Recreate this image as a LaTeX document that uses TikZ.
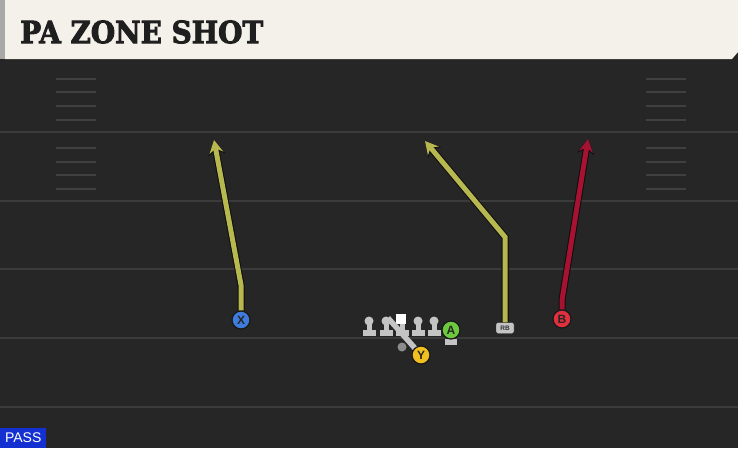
\documentclass[tikz,border=0pt]{standalone}
\usepackage{fontspec}
\usetikzlibrary{arrows.meta}
\newfontfamily\titlefont[BoldFont={DejaVu Serif Bold}]{DejaVu Serif}
\newfontfamily\labelfont{Liberation Sans}
\definecolor{field}{HTML}{262626}
\definecolor{yardline}{HTML}{3B3B3B}
\definecolor{hashmark}{HTML}{404040}
\definecolor{header}{HTML}{F4F1EA}
\definecolor{strip}{HTML}{A8A9A6}
\definecolor{olive}{HTML}{B8B850}
\definecolor{crimson}{HTML}{A81232}
\definecolor{xblue}{HTML}{3F7BDA}
\definecolor{agreen}{HTML}{6CC83C}
\definecolor{yyellow}{HTML}{F0C020}
\definecolor{bred}{HTML}{E0303E}
\definecolor{lineman}{HTML}{C4C4C4}
\definecolor{passblue}{HTML}{1430D0}
\tikzset{
  player/.style={circle, draw=black!90, line width=1.2pt, minimum size=18pt, inner sep=0pt, text=black!85, font=\labelfont\bfseries\fontsize{12}{12}\selectfont},
  outline/.style={draw=black!95, line width=7pt, -{Stealth[length=15pt,width=17pt,inset=5pt]}},
  route/.style={line width=5pt, -{Stealth[length=13pt,width=14pt,inset=4.5pt]}},
}
\begin{document}
\begin{tikzpicture}[x=1pt,y=-1pt]
\useasboundingbox (0,0) rectangle (738,448);
% field
\fill[field] (0,0) rectangle (738,448);
\foreach \y in {132,201,269,338,407}
{
\draw[yardline, line width=2.4pt] (0,\y) -- (738,\y);
}
\foreach \y in {79,92,106,120,148,162,175,189}
{
\draw[hashmark, line width=2pt] (56,\y) -- (96,\y);
\draw[hashmark, line width=2pt] (646,\y) -- (686,\y);
}
% header
\fill[black!85] (0,58) rectangle (738,63);
\fill[header] (5,0) -- (738,0) -- (738,52) -- (732,59) -- (5,59) -- cycle;
\fill[strip] (0,0) rectangle (5,59);
\node[anchor=west, inner sep=0pt, text=black!88] (title) at (20,32)
  {\special{pdf:literal 2 Tr 0.9 w}\scalebox{0.93}[1.02]{\titlefont\bfseries\fontsize{30}{30}\selectfont PA ZONE SHOT}\special{pdf:literal 0 Tr}};
% line
\foreach \x in {369,386,402,418,434}
{
\fill[lineman] (\x-2.5,321) rectangle (\x+2.5,331);
\fill[lineman] (\x-6.5,330) rectangle (\x+6.5,336);
}
\foreach \x in {369,386,418,434}
{
\fill[lineman] (\x,321) circle (4.5);
}
\node[fill=white, minimum size=10pt, inner sep=0pt] (C) at (401,319) {};
\fill[lineman] (445,339) rectangle (457,345);
\node[circle, fill=black!45, minimum size=9pt, inner sep=0pt] (QB) at (402,347) {};
% players
\node[player, fill=xblue] (X) at (241,320) {X};
\node[player, fill=agreen] (A) at (451,330) {A};
\node[player, fill=bred] (B) at (562,319) {B};
\node[draw=black!85, fill=lineman, rounded corners=2pt, minimum width=18pt, minimum height=11pt, inner sep=0pt, text=black!80, font=\labelfont\bfseries\fontsize{6.5}{6.5}\selectfont] (RB) at (505,328) {RB};
% routes
\coordinate (Xend) at (214,140);
\coordinate (RBend) at (425,141);
\coordinate (Bend) at (588,139);
\coordinate (Yblock) at (388,318);
\draw[outline] (X.north) -- (241,285) -- (Xend);
\draw[outline] (RB.north) -- (505,237) -- (RBend);
\draw[outline] (B.north) -- (562,300) -- (Bend);
\draw[route, olive] (X.north) -- (241,285) -- (Xend);
\draw[route, olive] (RB.north) -- (505,237) -- (RBend);
\draw[route, crimson] (B.north) -- (562,300) -- (Bend);
\draw[lineman, line width=5.5pt] (Yblock) -- (421,355);
\node[player, fill=yyellow] (Y) at (421,355) {Y};
% tag
\node[fill=passblue, text=white, anchor=south west, minimum width=46pt, minimum height=20pt, inner sep=1pt, font=\labelfont\fontsize{14}{14}\selectfont] (pass) at (0,448) {PASS};
\end{tikzpicture}
\end{document}
